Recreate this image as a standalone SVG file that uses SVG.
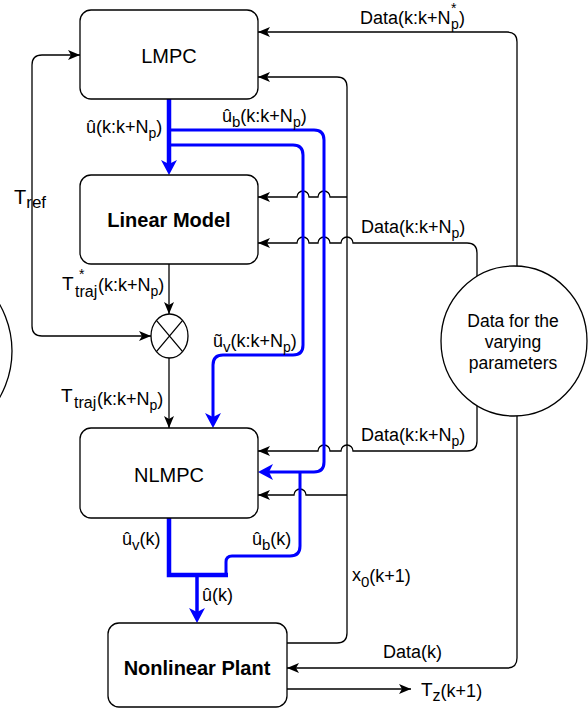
<svg xmlns="http://www.w3.org/2000/svg" width="588" height="708" viewBox="0 0 588 708">
<defs>
<marker id="ab" viewBox="0 0 12 10" refX="12" refY="5" markerWidth="12" markerHeight="10" markerUnits="userSpaceOnUse" orient="auto-start-reverse"><path d="M0,0 L12,5 L0,10 L3,5 Z" fill="#000"/></marker>
<marker id="au" viewBox="0 0 15 16" refX="4" refY="8" markerWidth="15" markerHeight="16" markerUnits="userSpaceOnUse" orient="auto"><path d="M0,0 L15,8 L0,16 L4,8 Z" fill="#0000ff"/></marker>
</defs>
<style>
.box{fill:#fff;stroke:#000;stroke-width:1.3}
.ln{fill:none;stroke:#000;stroke-width:1.3}
.bl{fill:none;stroke:#0000ff;stroke-width:3}
text{font-family:"Liberation Sans",Arial,sans-serif;fill:#000}
.lbl{font-size:18px}
.nd{font-size:20px;text-anchor:middle}
.b{font-weight:bold}
.s{font-size:14px}
.s14{font-size:15px}
</style>
<rect width="588" height="708" fill="#fff"/>

<g id="connectors">
<path class="ln" d="M517,266 V42 Q517,32 507,32 H258" marker-end="url(#ab)"/>
<path class="ln" d="M287,643 H337 Q347,643 347,633 V87 Q347,77 337,77 H258" marker-end="url(#ab)"/>
<path class="ln" d="M347,197 H330 A6,6 0 0 0 318,197 H309 A6,6 0 0 0 297,197 H258" marker-end="url(#ab)"/>
<path class="ln" d="M477,276 V253 Q477,243 467,243 H353 A6,6 0 0 0 341,243 H330 A6,6 0 0 0 318,243 H309 A6,6 0 0 0 297,243 H258" marker-end="url(#ab)"/>
<path class="ln" d="M477,406 V441 Q477,451 467,451 H353 A6,6 0 0 0 341,451 H330 A6,6 0 0 0 318,451 H258" marker-end="url(#ab)"/>
<path class="ln" d="M347,495 H306 A6,6 0 0 0 294,495 H258" marker-end="url(#ab)"/>
<path class="ln" d="M517,416 V658 Q517,668 507,668 H287" marker-end="url(#ab)"/>
<path class="ln" d="M287,689 H411" marker-end="url(#ab)"/>
<path class="ln" d="M151,336 H42 Q32,336 32,326 V65 Q32,55 42,55 H80" marker-start="url(#ab)" marker-end="url(#ab)"/>
<path class="ln" d="M169,264 V314" marker-end="url(#ab)"/>
<path class="ln" d="M169,358 V428" marker-end="url(#ab)"/>

<path class="bl" style="stroke-width:4.5" d="M169,99 V164" marker-end="url(#au)"/>
<path class="bl" d="M169,130 H314 Q324,130 324,140 V462 Q324,472 314,472 H269" marker-end="url(#au)"/>
<path class="bl" d="M169,145 H293 Q303,145 303,155 V345 Q303,355 293,355 H223 Q213,355 213,365 V417" marker-end="url(#au)"/>
<path class="bl" d="M300,472 V546 Q300,556 290,556 H232 Q226,556 226,562 V575"/>
<path class="bl" style="stroke-width:4.5" d="M169,518 V575 H228"/>
<path class="bl" style="stroke-width:3.5" d="M197,575 V612" marker-end="url(#au)"/>

<text class="lbl" x="86" y="133">û(k:k+N<tspan class="s" dy="5">p</tspan><tspan dy="-5">)</tspan></text>
<text class="lbl" x="222" y="122">û<tspan class="s14" dy="5">b</tspan><tspan dy="-5">(k:k+N</tspan><tspan class="s" dy="5">p</tspan><tspan dy="-5">)</tspan></text>
<text x="14" y="204" font-size="20">T<tspan font-size="17" dy="4">ref</tspan></text>
<text x="62" y="290"><tspan font-size="19">T</tspan><tspan font-size="14" x="79" y="279">*</tspan><tspan font-size="16" x="75" y="297">traj</tspan><tspan font-size="18" x="98" y="291">(k:k+N</tspan><tspan class="s" dy="5">p</tspan><tspan font-size="18" dy="-5">)</tspan></text>
<text x="61" y="402"><tspan font-size="19">T</tspan><tspan font-size="16" x="74" y="408">traj</tspan><tspan font-size="18" x="97" y="405">(k:k+N</tspan><tspan class="s" dy="5">p</tspan><tspan font-size="18" dy="-5">)</tspan></text>
<text class="lbl" x="213" y="347">ũ<tspan class="s14" dy="5">v</tspan><tspan dy="-5">(k:k+N</tspan><tspan class="s" dy="5">p</tspan><tspan dy="-5">)</tspan></text>
<text class="lbl" x="122" y="545">û<tspan class="s14" dy="5">v</tspan><tspan dy="-5">(k)</tspan></text>
<text class="lbl" x="252" y="545">û<tspan class="s14" dy="5">b</tspan><tspan dy="-5">(k)</tspan></text>
<text class="lbl" x="202" y="601">û(k)</text>
<text class="lbl" x="352" y="581">x<tspan class="s14" dy="6">0</tspan><tspan dy="-5">(k+1)</tspan></text>
<text class="lbl" x="383" y="658">Data(k)</text>
<text x="421" y="696"><tspan font-size="19">T</tspan><tspan font-size="16" dy="5">z</tspan><tspan font-size="18" dy="-4">(k+1)</tspan></text>
<text class="lbl" x="360" y="24">Data(k:k+N<tspan class="s" x="451" y="13">*</tspan><tspan class="s" x="451" y="29">p</tspan><tspan x="459" y="24">)</tspan></text>
<text class="lbl" x="361" y="233">Data(k:k+N<tspan class="s" dy="5">p</tspan><tspan dy="-5">)</tspan></text>
<text class="lbl" x="361" y="441">Data(k:k+N<tspan class="s" dy="5">p</tspan><tspan dy="-5">)</tspan></text>
</g>

<g id="lmpc">
<rect class="box" x="80" y="10" width="178" height="89" rx="11"/>
<text class="nd" x="169" y="63">LMPC</text>
</g>
<g id="linear-model">
<rect class="box" x="80" y="175" width="178" height="89" rx="11"/>
<text class="nd b" x="169" y="227">Linear Model</text>
</g>
<g id="nlmpc">
<rect class="box" x="80" y="428" width="178" height="90" rx="11"/>
<text class="nd" x="169" y="482">NLMPC</text>
</g>
<g id="nonlinear-plant">
<rect class="box" x="108" y="623" width="179" height="84" rx="11"/>
<text class="nd b" x="197" y="675">Nonlinear Plant</text>
</g>
<g id="sum">
<ellipse class="box" cx="169.5" cy="336" rx="18.5" ry="22"/>
<path class="ln" d="M156.4,320.4 L182.6,351.6 M182.6,320.4 L156.4,351.6"/>
</g>
<g id="data-varying">
<ellipse class="box" cx="514" cy="341" rx="73" ry="75"/>
<text x="513" y="327" font-size="17.5" text-anchor="middle">Data for the</text>
<text x="513" y="348" font-size="17.5" text-anchor="middle">varying</text>
<text x="513" y="369" font-size="17.5" text-anchor="middle">parameters</text>
</g>
<g id="left-node">
<circle cx="-82" cy="351" r="94" fill="none" stroke="#000" stroke-width="1.3"/>
</g>
</svg>
